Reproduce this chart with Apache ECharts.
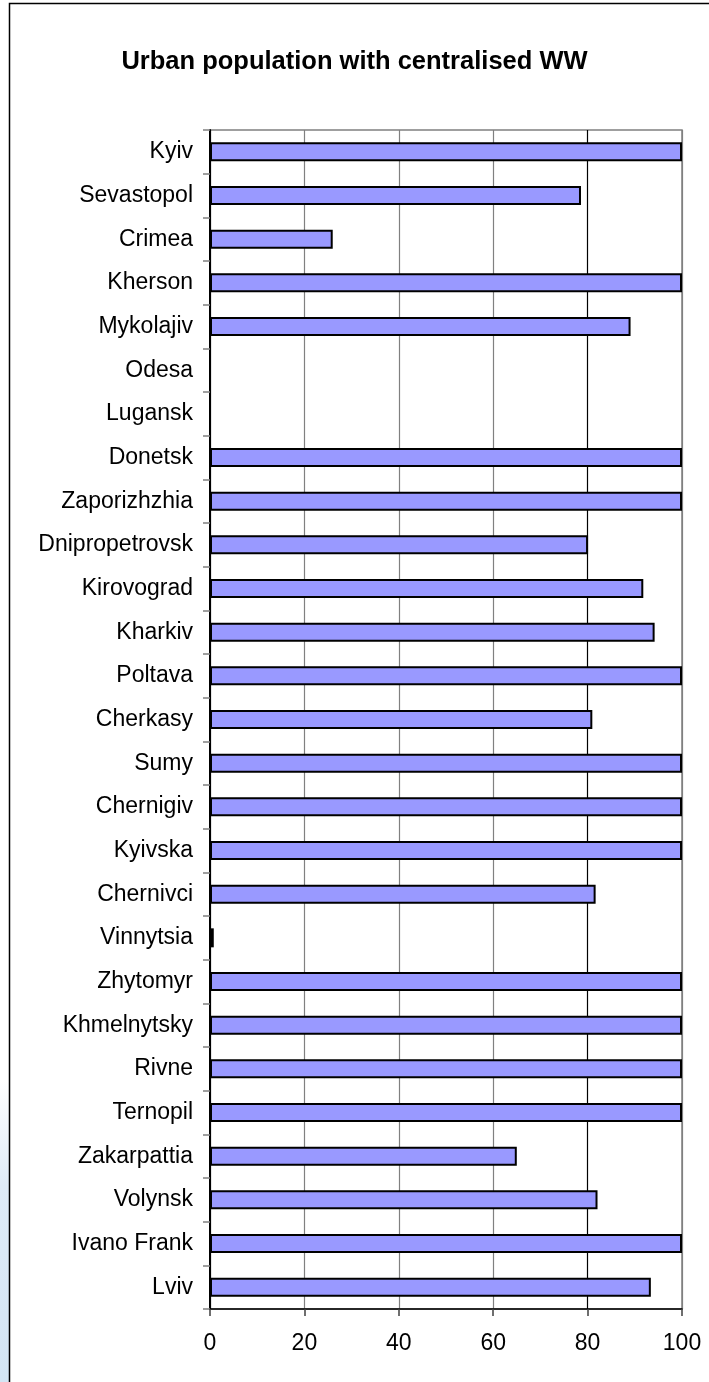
<!DOCTYPE html>
<html>
<head>
<meta charset="utf-8">
<script src="https://cdn.jsdelivr.net/npm/echarts@6/dist/echarts.min.js"></script>
<style>
html,body{margin:0;padding:0;background:#fff;}
#c{width:709px;height:1382px;}
</style>
</head>
<body>
<div id="c"></div>
<script>
var categories = ['Kyiv','Sevastopol','Crimea','Kherson','Mykolajiv','Odesa','Lugansk','Donetsk','Zaporizhzhia','Dnipropetrovsk','Kirovograd','Kharkiv','Poltava','Cherkasy','Sumy','Chernigiv','Kyivska','Chernivci','Vinnytsia','Zhytomyr','Khmelnytsky','Rivne','Ternopil','Zakarpattia','Volynsk','Ivano Frank','Lviv'];
var values = [100,78.6,26,100,89.1,null,null,100,100,80.1,91.8,94.2,100,81,100,100,100,81.7,0.8,100,100,100,100,65,82.1,100,93.4];
var xTicks = [0,20,40,60,80,100];

var chart = echarts.init(document.getElementById('c'), null, {renderer:'canvas'});
var FONT = '"Liberation Sans", Arial, sans-serif';
chart.setOption({
  backgroundColor:'#fff',
  animation:false,
  title:{
    text:'Urban population with centralised WW',
    left:'center', top:44,
    textStyle:{fontFamily:FONT,fontSize:25.5,fontWeight:'bold',color:'#000'}
  },
  graphic:[
    {type:'rect',shape:{x:0,y:1080,width:9,height:302},silent:true,
     style:{fill:new echarts.graphic.LinearGradient(0,0,0,1,[{offset:0,color:'#ffffff'},{offset:0.35,color:'#dfebf7'},{offset:1,color:'#d3e5f4'}])}},
    {type:'rect',shape:{x:9.5,y:3.5,width:800,height:1400},silent:true,
     style:{fill:null,stroke:'#000',lineWidth:1.5}}
  ],
  grid:{left:210,right:27,top:130,bottom:73,show:true,borderColor:'#808080',borderWidth:1.5,backgroundColor:'transparent'},
  xAxis:{
    type:'value',min:xTicks[0],max:xTicks[xTicks.length-1],interval:20,
    axisLine:{show:true,lineStyle:{color:'#000',width:1.5}},
    axisTick:{show:true,length:7,lineStyle:{color:'#404040',width:1.5}},
    axisLabel:{margin:23,fontFamily:FONT,fontSize:23,color:'#000'},
    splitLine:{show:true,lineStyle:{color:['#000','#808080','#808080','#808080','#000','#808080'],width:1.2}}
  },
  yAxis:{
    type:'category',data:categories,inverse:true,
    axisLine:{show:true,lineStyle:{color:'#000',width:2}},
    axisTick:{show:true,length:7,lineStyle:{color:'#808080',width:1.5}},
    axisLabel:{margin:17,fontFamily:FONT,fontSize:23,color:'#000'},
    splitLine:{show:false}
  },
  series:[{
    type:'bar',data:values,barWidth:19,
    itemStyle:{color:'#9999FF',borderColor:'#000',borderWidth:2}
  }]
});
</script>
</body>
</html>
